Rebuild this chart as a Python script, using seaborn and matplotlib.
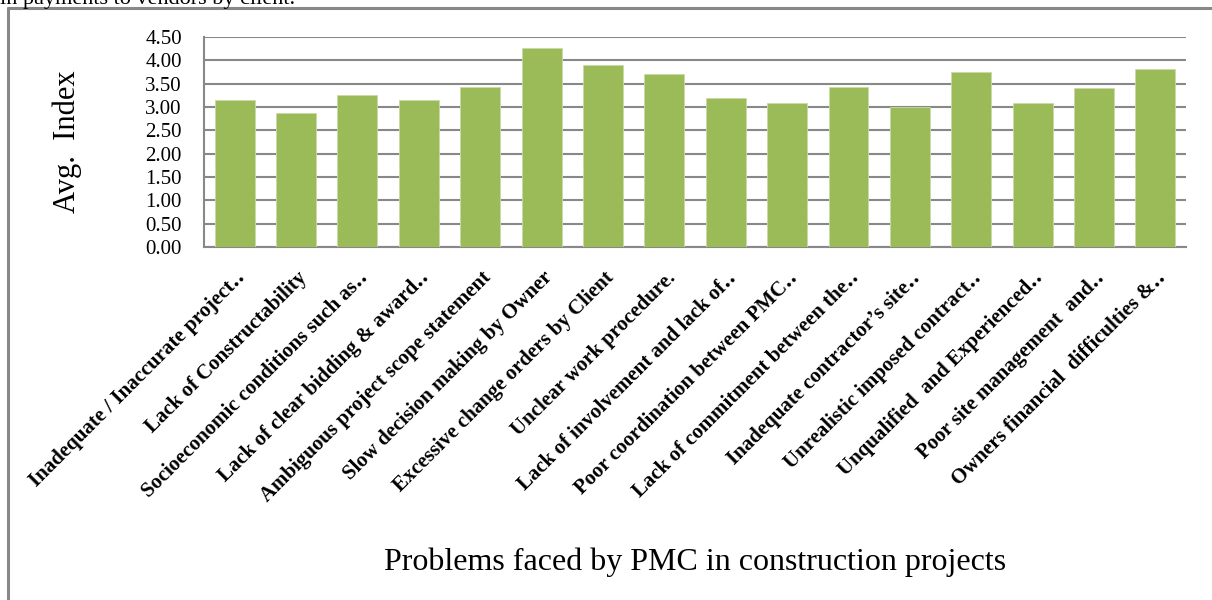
import matplotlib
matplotlib.use("Agg")
import matplotlib.pyplot as plt
import matplotlib.transforms as mtransforms
import seaborn as sns
import pandas as pd

# Datos
problemas = [
    "Inadequate / Inaccurate project\u2025",
    "Lack of Constructability",
    "Socioeconomic conditions such as\u2025",
    "Lack of clear bidding & award\u2025",
    "Ambiguous project scope statement",
    "Slow decision making by Owner",
    "Excessive change orders by Client",
    "Unclear work procedure.",
    "Lack of involvement and lack of\u2025",
    "Poor coordination between PMC\u2025",
    "Lack of commitment between the\u2025",
    "Inadequate contractor\u2019s site\u2025",
    "Unrealistic imposed contract\u2025",
    "Unqualified  and Experienced\u2025",
    "Poor site management  and\u2025",
    "Owners financial  difficulties &\u2025",
]
indice_prom = [3.16, 2.87, 3.26, 3.16, 3.42, 4.27, 3.91, 3.71,
               3.19, 3.09, 3.42, 3.01, 3.76, 3.09, 3.40, 3.82]
y_ticks = [0.0, 0.5, 1.0, 1.5, 2.0, 2.5, 3.0, 3.5, 4.0, 4.5]

df = pd.DataFrame({"problema": problemas, "indice": indice_prom})

sns.set_style("white")
serif = ["Liberation Serif", "DejaVu Serif"]
plt.rcParams["font.family"] = serif
plt.rcParams["text.color"] = "black"
plt.rcParams["axes.labelcolor"] = "black"
plt.rcParams["xtick.color"] = "black"
plt.rcParams["ytick.color"] = "black"

fig = plt.figure(figsize=(12.12, 6.0), dpi=100)
ax = fig.add_axes([0.1683, 0.5883, 0.8103, 0.35])

sns.barplot(data=df, x="problema", y="indice", color="#9BBB59",
            width=0.65, saturation=1, edgecolor="#C9DAA6", linewidth=0.6,
            ax=ax, zorder=3)

ax.set_ylim(0, 4.5)
ax.set_yticks(y_ticks)
ax.set_yticklabels([f"{v:.2f}" for v in y_ticks], fontsize=15)
ax.yaxis.grid(True, color="#888888", linewidth=1.5, zorder=0)
ax.set_axisbelow(True)
ax.tick_params(axis="both", length=0)
ax.tick_params(axis="y", pad=16)
ax.tick_params(axis="x", pad=20)

for s in ["top", "right"]:
    ax.spines[s].set_visible(False)
for s in ["left", "bottom"]:
    ax.spines[s].set_color("#888888")
    ax.spines[s].set_linewidth(1.5)

# etiquetas del eje x giradas 45 grados
offset = mtransforms.ScaledTranslation(8 / 100, 0, fig.dpi_scale_trans)
for lbl in ax.get_xticklabels():
    lbl.set_rotation(45)
    lbl.set_ha("right")
    lbl.set_va("center")
    lbl.set_rotation_mode("anchor")
    lbl.set_fontweight("bold")
    lbl.set_fontsize(15)
    lbl.set_transform(lbl.get_transform() + offset)

ax.set_ylabel("Avg.  Index", fontsize=22)
ax.yaxis.set_label_coords(-0.124, 0.5)
ax.set_xlabel("Problems faced by PMC in construction projects", fontsize=23)
ax.xaxis.set_label_coords(0.5, -1.43)

# marco del grafico y texto cortado arriba
fig.add_artist(plt.Line2D([8 / 1212, 8 / 1212], [0, 1 - 8 / 600],
                          color="#888888", linewidth=2.2))
fig.add_artist(plt.Line2D([8 / 1212, 1], [1 - 8 / 600, 1 - 8 / 600],
                          color="#888888", linewidth=2.2))
fig.text(0.0, 1 - 4 / 600, "in payments to vendors by client.",
         fontsize=16, va="baseline", ha="left")

fig.savefig("out.png", dpi=100, facecolor="white")
